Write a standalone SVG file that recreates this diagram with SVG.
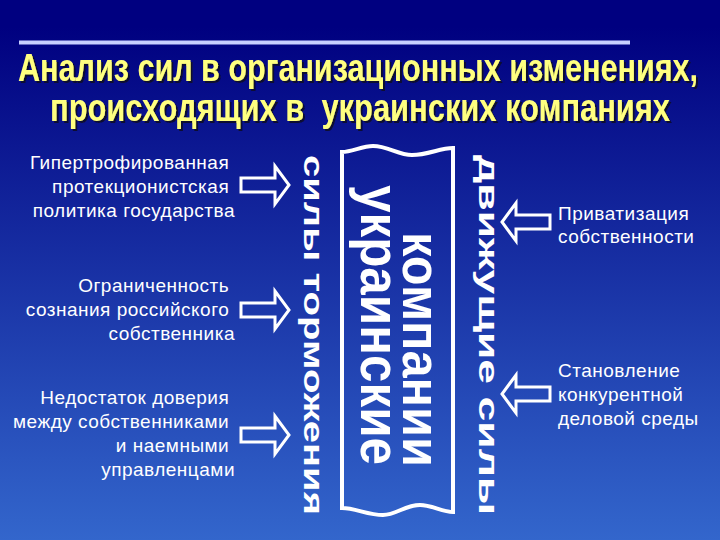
<svg xmlns="http://www.w3.org/2000/svg" width="720" height="540" viewBox="0 0 720 540">
  <defs>
    <linearGradient id="bg" x1="0" y1="0" x2="0" y2="1">
      <stop offset="0" stop-color="#000080"/>
      <stop offset="0.05" stop-color="#000080"/>
      <stop offset="1" stop-color="#3366CC"/>
    </linearGradient>
    <filter id="shadow" filterUnits="userSpaceOnUse" x="0" y="30" width="720" height="120">
      <feDropShadow dx="2" dy="2" stdDeviation="0.6" flood-color="#101030" flood-opacity="1"/>
    </filter>
    <path id="arrowR" d="M-48,-7 L-14,-7 L-14,-19 L0,0 L-14,19 L-14,7 L-48,7 Z"/>
  </defs>
  <style>
    .title { font-family: "Liberation Sans Narrow", "Liberation Sans", Arial, sans-serif; font-weight: bold; font-size: 39px; fill: #FFFF80; }
    .lbl { font-family: "Liberation Sans", Arial, sans-serif; font-size: 19px; fill: #FFFFFF; letter-spacing: 0.5px; }
    .vert { font-family: "Liberation Sans", Arial, sans-serif; font-weight: bold; fill: #FFFFFF; }
    .arrow { fill: none; stroke: #FFFFFF; stroke-width: 3; stroke-linejoin: miter; }
  </style>

  <rect x="0" y="0" width="720" height="540" fill="url(#bg)"/>

  <!-- top rule -->
  <line x1="19" y1="42.5" x2="630" y2="42.5" stroke="#C8D0FF" stroke-width="4"/>

  <!-- title -->
  <g id="title" filter="url(#shadow)">
    <text class="title" x="18" y="81" textLength="680" lengthAdjust="spacingAndGlyphs">Анализ сил в организационных изменениях,</text>
    <text class="title" x="50" y="121" textLength="620" lengthAdjust="spacingAndGlyphs" xml:space="preserve">происходящих в  украинских компаниях</text>
  </g>

  <!-- central box -->
  <g id="company">
    <path d="M342,152 C352,152 362,146 373,146 C388,146 398,155 412,155 C428,155 440,148 453,148 L453,512 C442,512 432,505 420,505 C405,505 396,515 383,515 C368,515 355,508 342,508 Z" fill="none" stroke="#FFFFFF" stroke-width="4"/>
    <text class="vert" font-size="51" transform="translate(403,232) rotate(90)" textLength="235" lengthAdjust="spacingAndGlyphs">компании</text>
    <text class="vert" font-size="55" transform="translate(361,185) rotate(90)" textLength="280" lengthAdjust="spacingAndGlyphs">украинские</text>
  </g>

  <g id="restraining-label">
    <text class="vert" font-size="28" transform="translate(304,155) rotate(90)" textLength="360" lengthAdjust="spacingAndGlyphs">силы торможения</text>
  </g>
  <g id="driving-label">
    <text class="vert" font-size="28" transform="translate(479,155) rotate(90)" textLength="360" lengthAdjust="spacingAndGlyphs">движущие силы</text>
  </g>

  <!-- left factors -->
  <g id="left1">
    <text class="lbl" text-anchor="end">
      <tspan x="235" y="169">Гипертрофированная</tspan>
      <tspan x="235" y="193">протекционистская</tspan>
      <tspan x="235" y="217">политика государства</tspan>
    </text>
  </g>
  <g id="left2">
    <text class="lbl" text-anchor="end">
      <tspan x="235" y="292">Ограниченность</tspan>
      <tspan x="235" y="316">сознания российского</tspan>
      <tspan x="235" y="340">собственника</tspan>
    </text>
  </g>
  <g id="left3">
    <text class="lbl" text-anchor="end">
      <tspan x="235" y="404">Недостаток доверия</tspan>
      <tspan x="235" y="428">между собственниками</tspan>
      <tspan x="235" y="452">и наемными</tspan>
      <tspan x="235" y="476">управленцами</tspan>
    </text>
  </g>

  <!-- right factors -->
  <g id="right1">
    <text class="lbl">
      <tspan x="558" y="220">Приватизация</tspan>
      <tspan x="558" y="243">собственности</tspan>
    </text>
  </g>
  <g id="right2">
    <text class="lbl">
      <tspan x="558" y="377">Становление</tspan>
      <tspan x="558" y="401">конкурентной</tspan>
      <tspan x="558" y="425">деловой среды</tspan>
    </text>
  </g>

  <!-- connectors -->
  <g id="connectors">
    <use href="#arrowR" class="arrow" transform="translate(289,185)"/>
    <use href="#arrowR" class="arrow" transform="translate(289,310)"/>
    <use href="#arrowR" class="arrow" transform="translate(289,435)"/>
    <use href="#arrowR" class="arrow" transform="translate(502,222) scale(-1,1)"/>
    <use href="#arrowR" class="arrow" transform="translate(502,394) scale(-1,1)"/>
  </g>
</svg>
